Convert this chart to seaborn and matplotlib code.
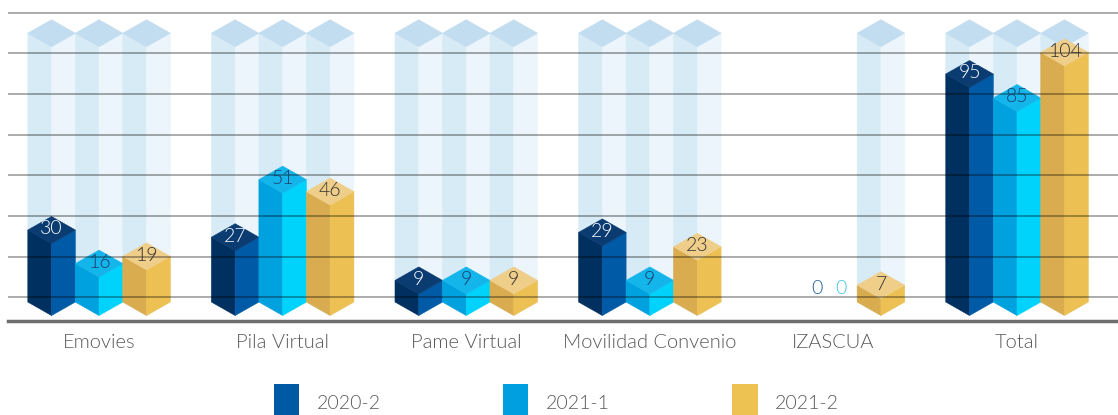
import numpy as np
import pandas as pd
import seaborn as sns
import matplotlib.pyplot as plt
from matplotlib.patches import Polygon, Patch

categories = ["Emovies", "Pila Virtual", "Pame Virtual", "Movilidad Convenio", "IZASCUA", "Total"]
periods = ["2020-2", "2021-1", "2021-2"]
v_2020_2 = [30, 27, 9, 29, 0, 95]
v_2021_1 = [16, 51, 9, 9, 0, 85]
v_2021_2 = [19, 46, 9, 23, 7, 104]

df = pd.DataFrame({
    "categoria": categories * 3,
    "periodo": [p for p in periods for _ in categories],
    "valor": v_2020_2 + v_2021_1 + v_2021_2,
})

# colours: (left face, right face, top face, legend, label)
styles = {
    "2020-2": ("#00305f", "#005aa6", "#0a3b71", "#0059a3", "white"),
    "2021-1": ("#00a1df", "#00d3fb", "#14b5ea", "#009fe0", "#1b3f6e"),
    "2021-2": ("#d9ac4f", "#edc053", "#efce8a", "#eec153", "#333333"),
}
ghost = ("#d7ebf6", "#ebf5fb", "#c2ddef")

PX = 2.4            # pixels per unit
D = 13.5 / PX       # half height of the top diamond
GHOST_TOP = 112

sns.set_theme(style="white")
plt.rcParams["font.family"] = ["Lato", "DejaVu Sans"]
plt.rcParams["font.weight"] = 300

fig = plt.figure(figsize=(11.18, 4.15), dpi=100)
ax = fig.add_axes([8 / 1118, 94 / 415, 1 - 8 / 1118, 321 / 415])

sns.barplot(data=df, x="categoria", y="valor", hue="periodo", order=categories,
            hue_order=periods, width=0.776, legend=False, ax=ax)


def prism(ax, L, w, top, colors, z):
    C, R = L + w / 2, L + w
    faces = [
        [(L, top), (C, top - D), (C, -D), (L, 0)],
        [(C, top - D), (R, top), (R, 0), (C, -D)],
        [(L, top), (C, top + D), (R, top), (C, top - D)],
    ]
    for pts, col in zip(faces, colors):
        ax.add_patch(Polygon(pts, closed=True, facecolor=col, edgecolor=col,
                             lw=0.4, zorder=z))


zero_shift = [0.65, 0.15, 0.0]
for k, (period, cont) in enumerate(zip(periods, ax.containers)):
    left, right, topc, legc, labc = styles[period]
    for bar in cont:
        bar.set_visible(False)
        L, w, v = bar.get_x(), bar.get_width(), bar.get_height()
        C = L + w / 2
        if v == 0:
            ax.text(C + zero_shift[k] * w, D, "0", ha="center", va="center",
                    fontsize=14, fontweight=300,
                    color=["#1f5f99", "#3cc6e6", "#333"][k], zorder=7)
            continue
        prism(ax, L, w, GHOST_TOP, ghost, 1)
        prism(ax, L, w, v, (left, right, topc), 3)
        ax.text(C, v + 0.5, str(int(v)), ha="center", va="center", fontsize=14,
                fontweight=300, color=labc, zorder=7)

ax.set_ylim(-19 / PX, 302 / PX)
ax.set_xlim(-0.496, 5.55)
for g in np.linspace(2, 120.5, 8):
    ax.axhline(g, color="black", alpha=0.33, lw=1.4, zorder=5)

for s in ["top", "right", "left"]:
    ax.spines[s].set_visible(False)
ax.spines["bottom"].set_color("#6e6e6e")
ax.spines["bottom"].set_linewidth(2.5)
ax.spines["bottom"].set_zorder(6)
ax.set_yticks([])
ax.set_xlabel("")
ax.set_ylabel("")
ax.tick_params(axis="x", length=0, pad=9, labelsize=14.5, labelcolor="#595959")
for t in ax.get_xticklabels():
    t.set_fontweight(300)

handles = [Patch(facecolor=styles[p][3], edgecolor="none") for p in periods]
fig.legend(handles, periods, loc="center left", bbox_to_anchor=(264 / 1118, 12 / 415),
           ncol=3, frameon=False, handlelength=1.3, handleheight=2.6,
           handletextpad=0.9, columnspacing=6.3, borderpad=0, labelcolor="#595959",
           prop={"weight": 300, "size": 14})

fig.savefig("out.png", dpi=100)
